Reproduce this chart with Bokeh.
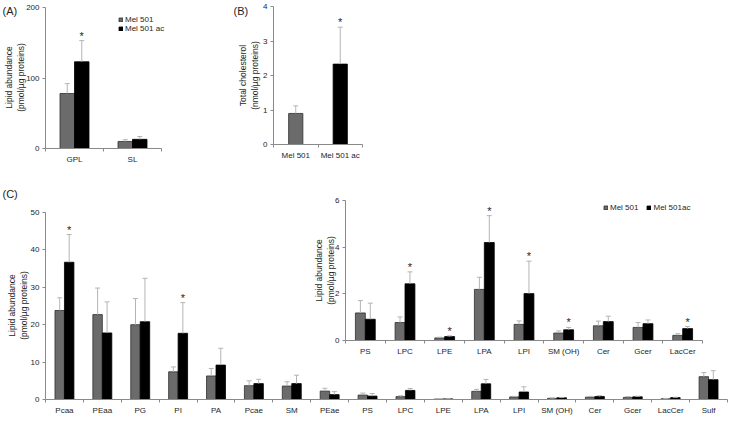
from bokeh.plotting import figure
from bokeh.models import (Range1d, LinearAxis, FixedTicker, ColumnDataSource,
                          Legend, LegendItem, Label)
from bokeh.core.properties import value
from bokeh.embed import file_html
from bokeh.resources import INLINE

# ---------------- data ----------------
A_CATS = ["GPL", "SL"]
A_MEL = [78, 10]
A_MEL_SD = [14, 2.5]
A_AC = [123, 13]
A_AC_SD = [30, 4]
A_MEL_SIG = [False, False]
A_AC_SIG = [True, False]
A_YTICKS = [0, 100, 200]

B_CATS = ["Mel 501", "Mel 501 ac"]
B_VAL = [0.9, 2.33]
B_SD = [0.22, 1.07]
B_SIG = [False, True]
B_YTICKS = [0, 1, 2, 3, 4]

C_CATS = ["Pcaa", "PEaa", "PG", "PI", "PA", "Pcae", "SM", "PEae", "PS", "LPC",
          "LPE", "LPA", "LPI", "SM (OH)", "Cer", "Gcer", "LacCer", "Sulf"]
C_MEL = [23.8, 22.7, 20.0, 7.4, 6.3, 3.7, 3.6, 2.25, 1.18, 0.77, 0.11, 2.19,
         0.69, 0.32, 0.63, 0.56, 0.22, 6.1]
C_MEL_SD = [3.4, 7.1, 7.0, 1.3, 2.0, 1.3, 1.15, 0.75, 0.53, 0.24, 0.03, 0.52,
            0.15, 0.09, 0.2, 0.21, 0.07, 1.1]
C_AC = [36.7, 17.8, 20.8, 17.7, 9.2, 4.25, 4.25, 1.3, 0.91, 2.43, 0.17, 4.2,
        2.01, 0.46, 0.81, 0.72, 0.51, 5.3]
C_AC_SD = [7.4, 8.3, 11.6, 8.2, 4.5, 1.15, 2.25, 0.8, 0.69, 0.51, 0.03, 1.15,
           1.39, 0.1, 0.23, 0.16, 0.09, 2.4]
C_MEL_SIG = [False] * 18
C_AC_SIG = [True, False, False, True] + [False] * 14
C_YTICKS = [0, 10, 20, 30, 40, 50]

I_CATS = ["PS", "LPC", "LPE", "LPA", "LPI", "SM (OH)", "Cer", "Gcer", "LacCer"]
I_MEL = [1.18, 0.77, 0.11, 2.19, 0.69, 0.32, 0.63, 0.56, 0.22]
I_MEL_SD = [0.53, 0.24, 0.03, 0.52, 0.15, 0.09, 0.2, 0.21, 0.07]
I_AC = [0.91, 2.43, 0.17, 4.2, 2.01, 0.46, 0.81, 0.72, 0.51]
I_AC_SD = [0.69, 0.51, 0.03, 1.15, 1.39, 0.1, 0.23, 0.16, 0.09]
I_MEL_SIG = [False] * 9
I_AC_SIG = [False, True, True, True, True, True, False, False, True]
I_YTICKS = [0, 2, 4, 6]

# ---------------- style ----------------
W, H = 729, 418
FONT = "Liberation Sans"
GRAY = "#6b6b6b"
GRAY_LINE = "#2e2e2e"
BLACK = "#000000"
ERR = "#b4b4b4"
AXIS = "#8a8a8a"
TXT = "#1e1e1e"

p = figure(width=W, height=H, x_range=Range1d(0, W), y_range=Range1d(H, 0),
           x_axis_type=None, y_axis_type=None, output_backend="svg",
           toolbar_location=None, min_border=0, outline_line_color=None,
           background_fill_color="white", border_fill_color="white")


def x_range_for(n, pl, pr):
    s = n / (pr - pl)
    return Range1d(start=-0.5 - pl * s, end=-0.5 + (W - pl) * s)


def y_range_for(ymax, pz, pt):
    s = ymax / (pz - pt)
    return Range1d(start=-(H - pz) * s, end=pz * s)


def panel(name, cats, yticks, pl, pr, pz, pt, series, label_size="8px"):
    n = len(cats)
    ymax = yticks[-1]
    p.extra_x_ranges[name] = x_range_for(n, pl, pr)
    p.extra_y_ranges[name] = y_range_for(ymax, pz, pt)
    rk = dict(x_range_name=name, y_range_name=name)
    renderers = []
    for (idx, vals, sds, sigs, fill, line, off, w) in series:
        xs = [i + off for i in idx]
        tops = [v + s for v, s in zip(vals, sds)]
        src = ColumnDataSource(dict(x=xs, top=vals, err=tops))
        r = p.vbar(x="x", top="top", bottom=0, width=w, source=src,
                   fill_color=fill, line_color=line, line_width=0.8, **rk)
        p.segment(x0="x", y0="top", x1="x", y1="err", source=src,
                  line_color=ERR, line_width=1, **rk)
        p.scatter(x="x", y="err", source=src, marker="dash", size=5,
                  line_color=ERR, line_width=1, **rk)
        sx = [x for x, s in zip(xs, sigs) if s]
        sy = [t for t, s in zip(tops, sigs) if s]
        if sx:
            p.text(x=sx, y=sy, text=["*"] * len(sx), text_font=value(FONT),
                   text_font_size="11px", text_align="center",
                   text_baseline="bottom", text_color=TXT, y_offset=1, **rk)
        renderers.append(r)

    xa = LinearAxis(fixed_location=0, bounds=(-0.5, n - 0.5),
                    ticker=FixedTicker(ticks=list(range(n)),
                                       minor_ticks=[i - 0.5 for i in range(n + 1)]),
                    major_label_overrides={i: c for i, c in enumerate(cats)}, **rk)
    xa.major_tick_out = 0
    xa.major_tick_in = 0
    xa.minor_tick_out = 3
    xa.minor_tick_in = 0
    xa.major_label_standoff = 3
    ya = LinearAxis(fixed_location=-0.5, bounds=(0, ymax),
                    ticker=FixedTicker(ticks=yticks, minor_ticks=[]), **rk)
    ya.major_tick_out = 3
    ya.major_tick_in = 0
    ya.minor_tick_out = 0
    ya.minor_tick_in = 0
    ya.major_label_standoff = 3
    for ax in (xa, ya):
        ax.axis_line_color = AXIS
        ax.major_tick_line_color = AXIS
        ax.minor_tick_line_color = AXIS
        ax.major_label_text_font = FONT
        ax.major_label_text_font_size = label_size
        ax.major_label_text_color = TXT
    p.add_layout(xa, "below")
    p.add_layout(ya, "left")
    return renderers


# Panel A
rA = panel("a", A_CATS, A_YTICKS, 45, 161, 148, 7, [
    (list(range(2)), A_MEL, A_MEL_SD, A_MEL_SIG, GRAY, GRAY_LINE, -0.125, 0.25),
    (list(range(2)), A_AC, A_AC_SD, A_AC_SIG, BLACK, BLACK, 0.125, 0.25),
])

# Panel B
rB = panel("b", B_CATS, B_YTICKS, 273, 362, 144, 6, [
    ([0], B_VAL[:1], B_SD[:1], B_SIG[:1], GRAY, GRAY_LINE, 0, 0.32),
    ([1], B_VAL[1:], B_SD[1:], B_SIG[1:], BLACK, BLACK, 0, 0.32),
])

# Panel C main
rC = panel("c", C_CATS, C_YTICKS, 45, 727, 399, 212, [
    (list(range(18)), C_MEL, C_MEL_SD, C_MEL_SIG, GRAY, GRAY_LINE, -0.125, 0.25),
    (list(range(18)), C_AC, C_AC_SD, C_AC_SIG, BLACK, BLACK, 0.125, 0.25),
])

# Panel C inset
rI = panel("i", I_CATS, I_YTICKS, 345, 702, 340, 200, [
    (list(range(9)), I_MEL, I_MEL_SD, I_MEL_SIG, GRAY, GRAY_LINE, -0.125, 0.25),
    (list(range(9)), I_AC, I_AC_SD, I_AC_SIG, BLACK, BLACK, 0.125, 0.25),
])


def legend(items, loc, orientation, spacing):
    lg = Legend(items=items, location=loc, orientation=orientation,
                glyph_width=5, glyph_height=5, label_text_font=FONT,
                label_text_font_size="8px", label_text_color=TXT,
                label_standoff=2, label_height=8, spacing=spacing, padding=0,
                margin=0, border_line_alpha=0, background_fill_alpha=0)
    p.add_layout(lg)


legend([LegendItem(label="Mel 501", renderers=[rA[0]]),
        LegendItem(label="Mel 501 ac", renderers=[rA[1]])],
       (118, H - 33), "vertical", 0)
legend([LegendItem(label="Mel 501", renderers=[rI[0]]),
        LegendItem(label="Mel 501ac", renderers=[rI[1]])],
       (603, H - 212), "horizontal", 8)

# panel letters
for txt, x, y in [("(A)", 2, 4), ("(B)", 233, 4), ("(C)", 2, 187)]:
    p.add_layout(Label(x=x, y=y, text=txt, text_font=FONT, text_font_size="11px",
                       text_color=TXT, text_baseline="top", text_align="left"))

# axis titles
for txt, x, y in [("Lipid abundance\n(pmol/µg proteins)", 14, 77),
                  ("Total cholesterol\n(nmol/µg proteins)", 248, 75),
                  ("Lipid abundance\n(pmol/µg proteins)", 17, 305),
                  ("Lipid abundance\n(pmol/µg proteins)", 324, 270)]:
    p.add_layout(Label(x=x, y=y, text=txt, angle=90, angle_units="deg",
                       text_font=FONT, text_font_size="8.5px", text_color=TXT,
                       text_align="center", text_baseline="middle"))

open("out.html", "w").write(file_html(p, INLINE))
